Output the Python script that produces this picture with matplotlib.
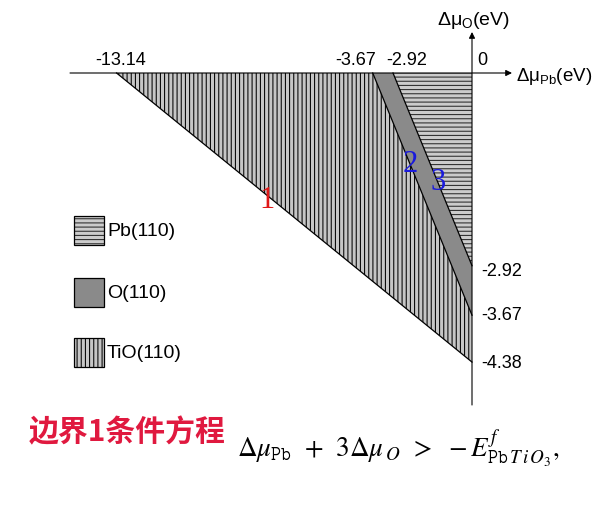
import matplotlib
matplotlib.use("Agg")
import matplotlib.pyplot as plt
from matplotlib.patches import Polygon, Rectangle

# ---- data ----
pb_intercepts = [-13.14, -3.67, -2.92]   # x-axis boundary intercepts (Δμ_Pb)
o_intercepts = [-4.38, -3.67, -2.92]     # y-axis boundary intercepts (Δμ_O)
region_names = ["Pb(110)", "O(110)", "TiO(110)"]
boundary_ids = ["1", "2", "3"]

plt.rcParams['hatch.linewidth'] = 0.75
plt.rcParams['mathtext.fontset'] = 'custom'
plt.rcParams['mathtext.rm'] = 'Liberation Sans'
plt.rcParams['mathtext.it'] = 'Liberation Sans'

W, H = 609, 511
fig = plt.figure(figsize=(W / 100, H / 100), dpi=100)
ax = fig.add_axes([0, 0, 1, 1])
sx, sy = 27.05, 66.0
ox, oy = 472, 73
ax.set_xlim(-ox / sx, (W - ox) / sx)
ax.set_ylim(-(H - oy) / sy, oy / sy)
ax.axis('off')

styles = {
    "TiO(110)": dict(facecolor='#c6c6c6', edgecolor='black', hatch='||||', lw=0),
    "O(110)": dict(facecolor='#8a8a8a', edgecolor='#8a8a8a', lw=0),
    "Pb(110)": dict(facecolor='#cccccc', edgecolor='#2a2a2a', hatch='----', lw=0),
}

x1, x2, x3 = pb_intercepts
y1, y2, y3 = o_intercepts
polys = {
    "TiO(110)": [(x1, 0), (x2, 0), (0, y2), (0, y1)],
    "O(110)": [(x2, 0), (x3, 0), (0, y3), (0, y2)],
    "Pb(110)": [(x3, 0), (0, 0), (0, y3)],
}
for name in ["TiO(110)", "O(110)", "Pb(110)"]:
    ax.add_patch(Polygon(polys[name], closed=True, **styles[name]))

# boundary lines
for xi, yi in zip(pb_intercepts, o_intercepts):
    ax.plot([xi, 0], [0, yi], color='black', lw=0.9)

# axes with arrows
ax.annotate('', xy=(40 / sx, 0), xytext=(-(ox - 70) / sx, 0),
            arrowprops=dict(arrowstyle='-|>', color='black', lw=0.8,
                            mutation_scale=9, shrinkA=0, shrinkB=0))
ax.annotate('', xy=(0, (oy - 32) / sy), xytext=(0, -(405 - oy) / sy),
            arrowprops=dict(arrowstyle='-|>', color='black', lw=0.8,
                            mutation_scale=9, shrinkA=0, shrinkB=0))

fs = 13
x_offsets = [3, -12.6, 10]
for v, dx in zip(pb_intercepts, x_offsets):
    ax.annotate(f"{v:.2f}", (v, 0), xytext=(dx, 3),
                textcoords='offset points', ha='center', va='bottom', fontsize=fs,
                family='Liberation Sans')
ax.annotate("0", (0, 0), xytext=(4, 3), textcoords='offset points', ha='left',
            va='bottom', fontsize=fs, family='Liberation Sans')
y_offsets = [-1, 0, -4]
for v, dy in zip(o_intercepts, y_offsets):
    ax.annotate(f"{v:.2f}", (0, v), xytext=(7, dy), textcoords='offset points',
                ha='left', va='center', fontsize=fs, family='Liberation Sans')

ax.annotate(r'$\Delta\mu_{\rm Pb}$(eV)', (40 / sx, 0), xytext=(3, -2.5),
            textcoords='offset points', ha='left', va='center', fontsize=13.5,
            family='Liberation Sans', math_fontfamily='custom')
ax.annotate(r'$\Delta\mu_{\rm O}$(eV)', (0, (oy - 32) / sy), xytext=(-25, 5),
            textcoords='offset points', ha='left', va='baseline', fontsize=14,
            family='Liberation Sans', math_fontfamily='custom')

# boundary numbers
ax.text(x1 + (268 - 118) / sx, -(200 - oy) / sy, boundary_ids[0], color='#e01818',
        fontsize=22, family='Liberation Serif', ha='center', va='center')
ax.text((410 - ox) / sx, -(164 - oy) / sy, boundary_ids[1], color='#1a1adc',
        fontsize=22, family='Liberation Serif', ha='center', va='center')
ax.text((438 - ox) / sx, -(182 - oy) / sy, boundary_ids[2], color='#1a1adc',
        fontsize=22, family='Liberation Serif', ha='center', va='center')

# legend
box_tops = [216, 278, 338]
for name, top in zip(region_names, box_tops):
    st = styles[name]
    fig.add_artist(Rectangle((74 / W, 1 - (top + 29) / H), 30 / W, 29 / H,
                             transform=fig.transFigure, facecolor=st['facecolor'],
                             edgecolor=st['edgecolor'], hatch=st.get('hatch'), lw=0))
    fig.add_artist(Rectangle((74 / W, 1 - (top + 29) / H), 30 / W, 29 / H,
                             transform=fig.transFigure, facecolor='none',
                             edgecolor='black', lw=0.9))
    fig.text(107 / W, 1 - (top + 16) / H, name, ha='left', va='center',
             fontsize=14, family='Liberation Sans')

# bottom caption
fig.text(29 / W, 1 - 432 / H, "边界1条件方程", color='#e0193f', fontsize=21.5,
         family=['Noto Sans CJK SC', 'DejaVu Sans'], weight='bold',
         ha='left', va='center')
fig.text(237 / W, 1 - 457 / H,
         r'$\Delta\mu_{\mathtt{Pb}}\;\,+\;\,3\Delta\mu_{\,O}\;\,>\;\,-E^{f}_{\mathtt{Pb}\,T\,i\,O_3},$',
         fontsize=19.5, ha='left', va='baseline', math_fontfamily='stix')

fig.savefig('out.png', dpi=100)
